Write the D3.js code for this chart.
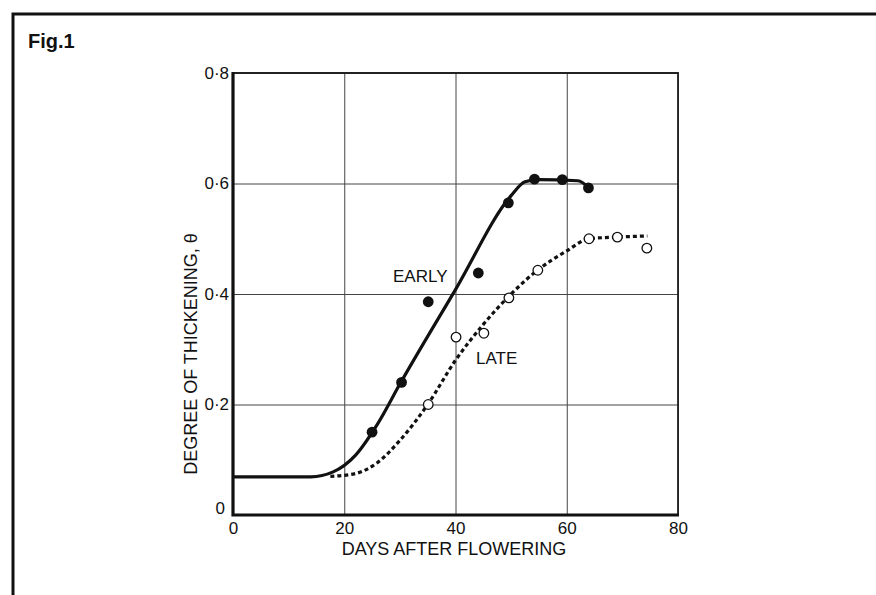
<!DOCTYPE html>
<html>
<head>
<meta charset="utf-8">
<script src="https://cdn.jsdelivr.net/npm/d3@7"></script>
<style>
  body { margin: 0; background: #fff; }
  text { font-family: "Liberation Sans", Arial, sans-serif; fill: #111; }
</style>
</head>
<body>
<script>
// values
var earlyDays = [25, 30.3, 35.1, 44.1, 49.5, 54.2, 59.2, 63.9];
var earlyTheta = [0.15, 0.24, 0.386, 0.438, 0.565, 0.608, 0.607, 0.592];
var lateDays = [35.1, 40.1, 45.1, 49.6, 54.8, 64.0, 69.1, 74.4];
var lateTheta = [0.2, 0.322, 0.329, 0.393, 0.443, 0.5, 0.503, 0.483];

// fitted curves as drawn (hand traced)
var earlyCurveX = [0, 14, 18, 22, 26, 30, 40, 50, 52.5, 55, 62, 64];
var earlyCurveY = [0.069, 0.069, 0.078, 0.108, 0.165, 0.237, 0.408, 0.578, 0.603, 0.607, 0.605, 0.592];
var lateCurveX = [17.5, 22, 26, 30, 35, 40, 45, 50, 55, 60, 64, 69, 74.5];
var lateCurveY = [0.07, 0.075, 0.095, 0.135, 0.2, 0.28, 0.345, 0.4, 0.445, 0.478, 0.5, 0.503, 0.505];

var xTicks = [0, 20, 40, 60, 80];
var yTicks = [0, 0.2, 0.4, 0.6, 0.8];
var yTickLabels = ['0', '0\u00b72', '0\u00b74', '0\u00b76', '0\u00b78'];

var W = 876, H = 595;
var pLeft = 233, pRight = 678, pTop = 73, pBottom = 515;

var svg = d3.select('body').append('svg')
  .attr('width', W)
  .attr('height', H);

// outer frame of the figure panel
svg.append('path')
  .attr('d', 'M13,' + H + 'V14H' + W)
  .attr('fill', 'none')
  .attr('stroke', '#111')
  .attr('stroke-width', 3);

svg.append('text')
  .attr('x', 28).attr('y', 48)
  .attr('font-size', 20)
  .attr('font-weight', 'bold')
  .text('Fig.1');

var x = d3.scaleLinear().domain([0, 80]).range([pLeft, pRight]);
var y = d3.scaleLinear().domain([0, 0.8]).range([pBottom, pTop]);

// grid through the axes
var gx = svg.append('g')
  .attr('transform', 'translate(0,' + pBottom + ')')
  .call(d3.axisBottom(x).tickValues(xTicks).tickSize(-(pBottom - pTop)).tickPadding(7));
gx.select('.domain').remove();
gx.selectAll('line').attr('stroke', '#444').attr('stroke-width', 1);
gx.selectAll('text').attr('font-size', 17).attr('font-family', null).attr('fill', '#111');

var gy = svg.append('g')
  .attr('transform', 'translate(' + pLeft + ',0)')
  .call(d3.axisLeft(y).tickValues(yTicks).tickSize(-(pRight - pLeft)).tickPadding(4)
    .tickFormat(function(d, i) { return yTickLabels[i]; }));
gy.select('.domain').remove();
gy.selectAll('line').attr('stroke', '#444').attr('stroke-width', 1);
gy.selectAll('text').attr('font-size', 17).attr('font-family', null).attr('fill', '#111');
gy.selectAll('.tick').filter(function(d) { return d === 0; })
  .select('text').attr('dy', '-0.1em').attr('x', -8);

// plot frame: heavy left and bottom, lighter top and right
svg.append('path')
  .attr('d', 'M' + pLeft + ',' + pTop + 'H' + pRight + 'V' + pBottom)
  .attr('fill', 'none').attr('stroke', '#222').attr('stroke-width', 1.8);
svg.append('path')
  .attr('d', 'M' + pLeft + ',' + (pTop - 1) + 'V' + pBottom + 'H' + (pRight + 1))
  .attr('fill', 'none').attr('stroke', '#111').attr('stroke-width', 3.2);

// axis titles
svg.append('text')
  .attr('x', 454).attr('y', 555)
  .attr('text-anchor', 'middle')
  .attr('font-size', 18)
  .text('DAYS AFTER FLOWERING');

svg.append('text')
  .attr('transform', 'translate(197,354) rotate(-90)')
  .attr('text-anchor', 'middle')
  .attr('font-size', 18)
  .text('DEGREE OF THICKENING, \u03b8');

var line = d3.line()
  .x(function(d) { return x(d[0]); })
  .y(function(d) { return y(d[1]); })
  .curve(d3.curveMonotoneX);

svg.append('path')
  .datum(d3.zip(earlyCurveX, earlyCurveY))
  .attr('d', line)
  .attr('fill', 'none')
  .attr('stroke', '#111')
  .attr('stroke-width', 3.2);

svg.append('path')
  .datum(d3.zip(lateCurveX, lateCurveY))
  .attr('d', line)
  .attr('fill', 'none')
  .attr('stroke', '#111')
  .attr('stroke-width', 3.2)
  .attr('stroke-dasharray', '4,3');

svg.selectAll('.early')
  .data(d3.zip(earlyDays, earlyTheta))
  .enter()
  .append('circle')
  .attr('class', 'early')
  .attr('cx', function(d) { return x(d[0]); })
  .attr('cy', function(d) { return y(d[1]); })
  .attr('r', 5.4)
  .attr('fill', '#111');

svg.selectAll('.late')
  .data(d3.zip(lateDays, lateTheta))
  .enter()
  .append('circle')
  .attr('class', 'late')
  .attr('cx', function(d) { return x(d[0]); })
  .attr('cy', function(d) { return y(d[1]); })
  .attr('r', 4.8)
  .attr('fill', '#fff')
  .attr('stroke', '#111')
  .attr('stroke-width', 1.3);

svg.append('text')
  .attr('x', 393).attr('y', 282)
  .attr('font-size', 17)
  .text('EARLY');

svg.append('text')
  .attr('x', 476).attr('y', 364)
  .attr('font-size', 17)
  .text('LATE');
</script>
</body>
</html>
